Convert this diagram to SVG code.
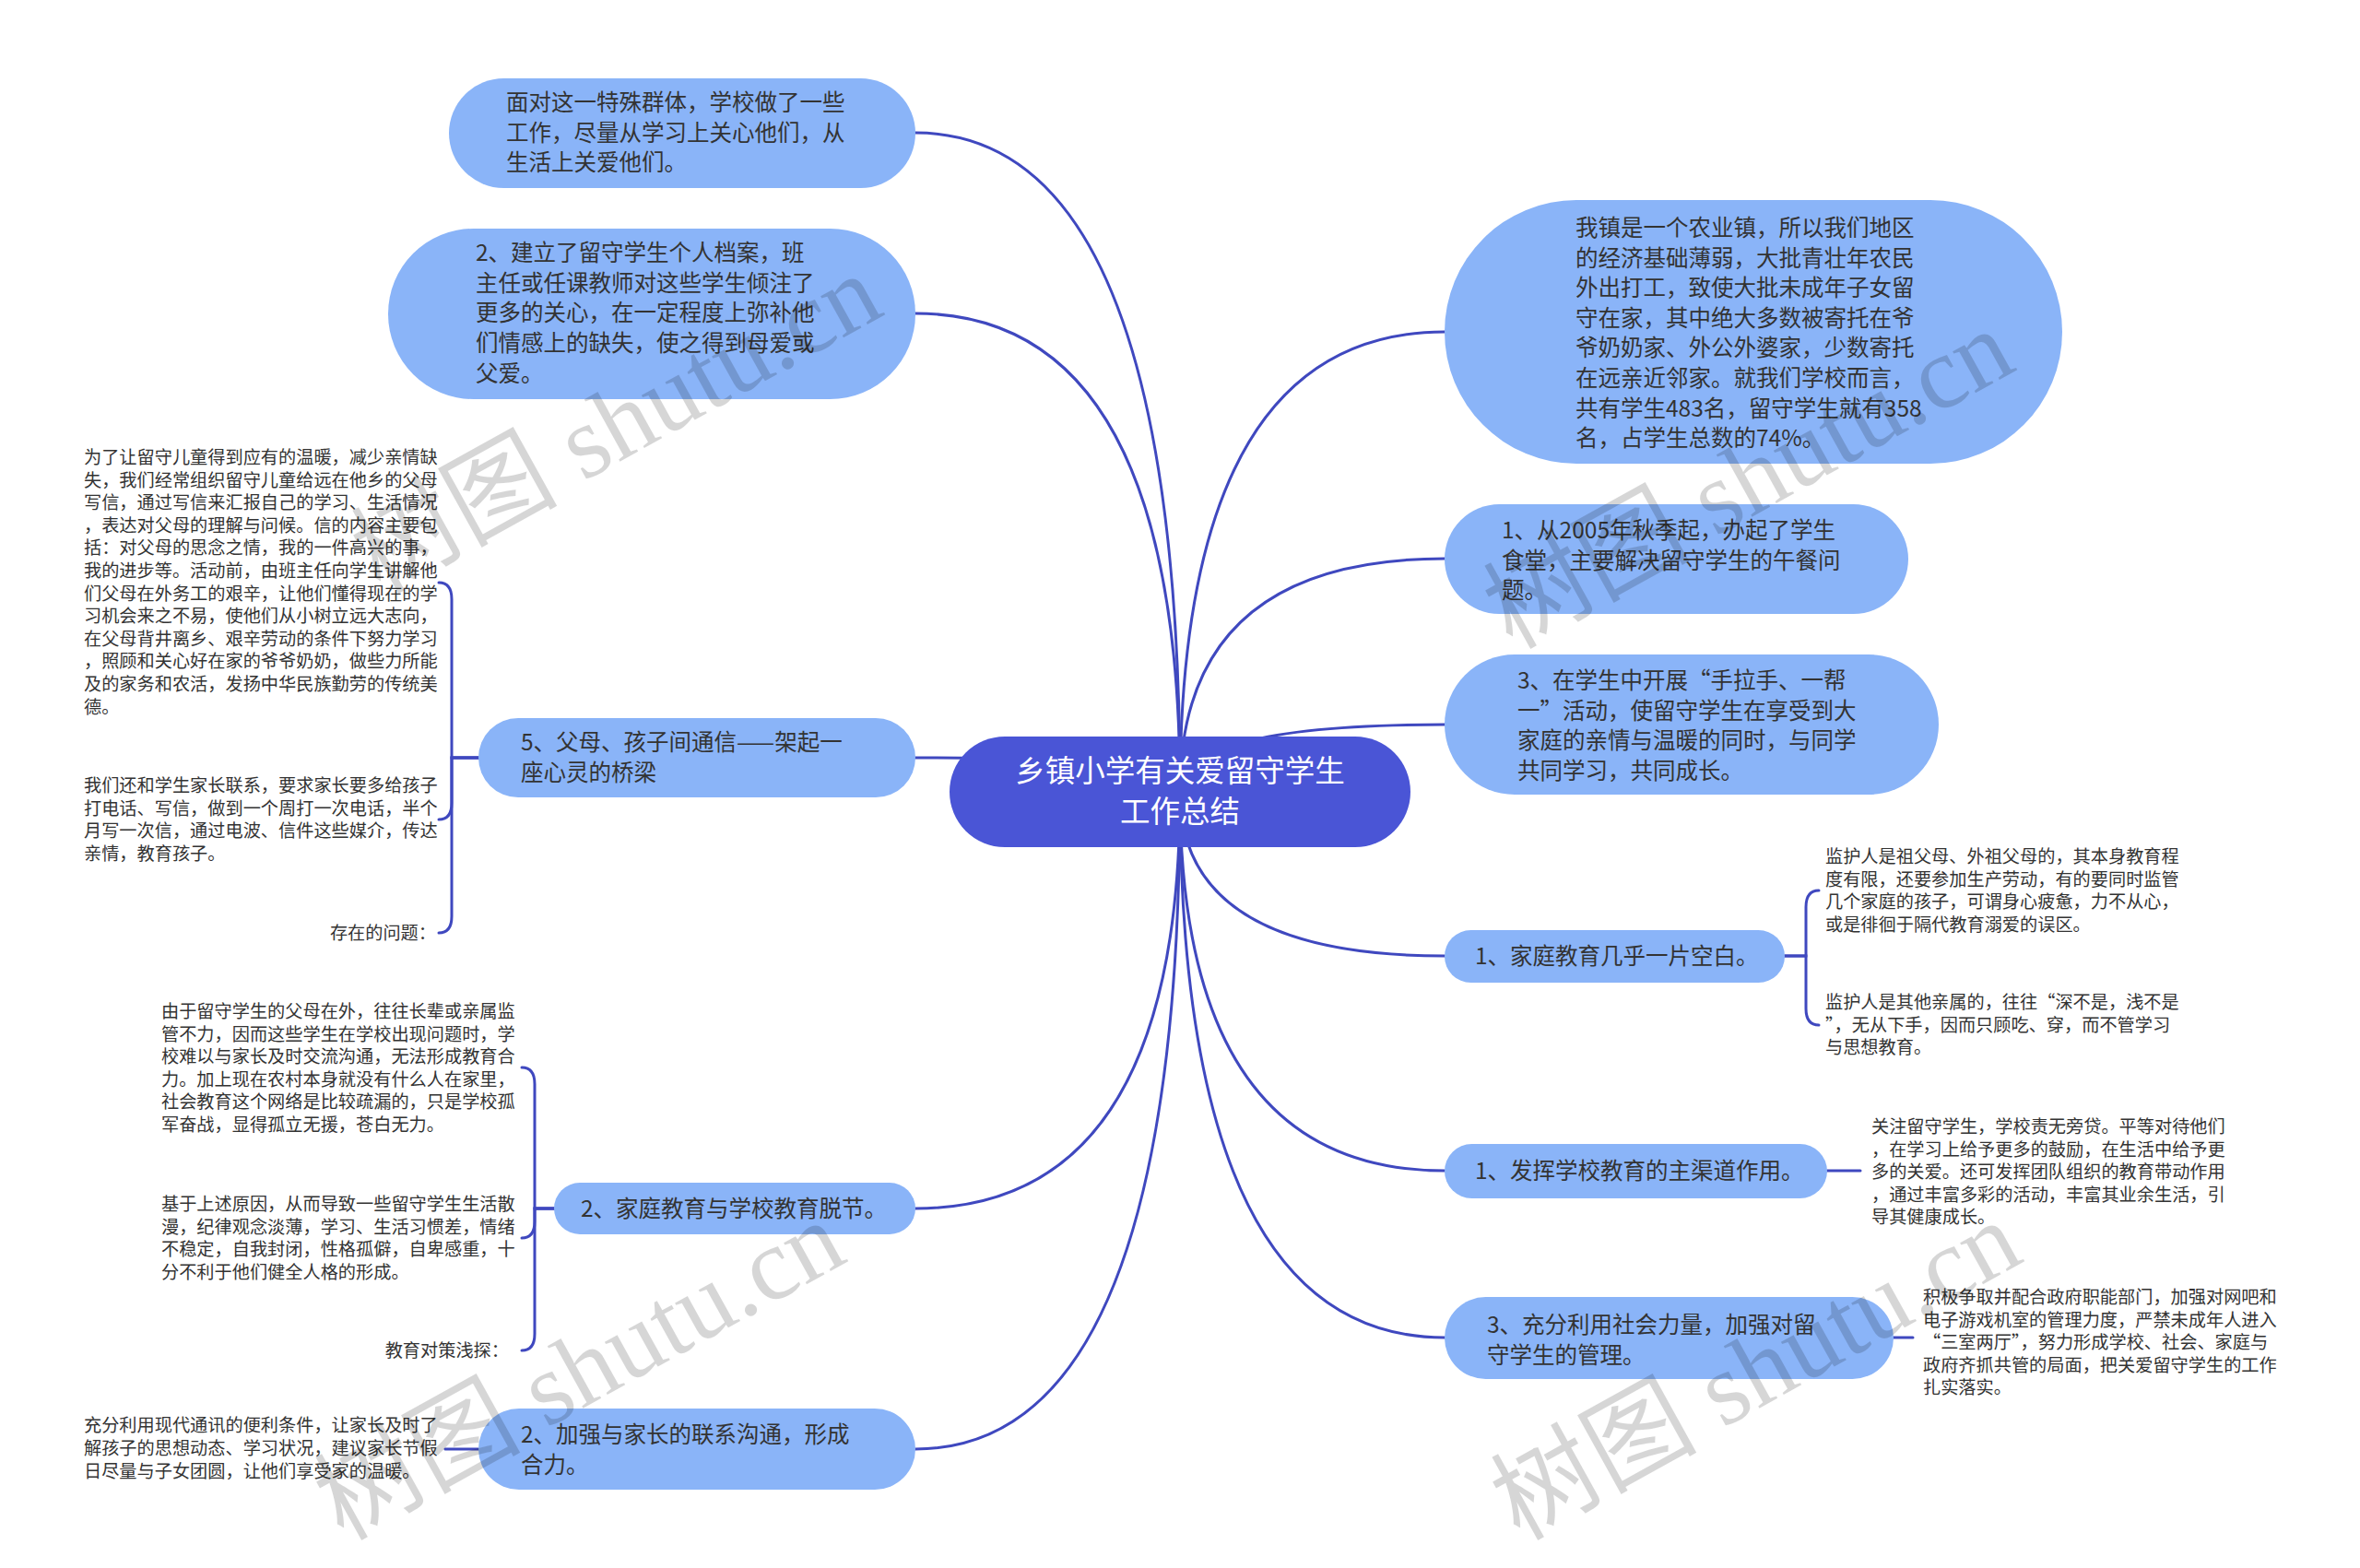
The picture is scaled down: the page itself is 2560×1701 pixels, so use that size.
<svg xmlns="http://www.w3.org/2000/svg" width="2560" height="1701" viewBox="0 0 2560 1701">
<defs>
<style>
.node rect{fill:#8ab4f8;}
.node text{font-family:"Noto Sans CJK SC","Liberation Sans",sans-serif;font-size:24.5px;fill:#333;}
.root rect{fill:#4a55d6;}
.root text{font-family:"Noto Sans CJK SC","Liberation Sans",sans-serif;font-size:32.5px;fill:#fff;text-anchor:middle;}
.leaf text{font-family:"Noto Sans CJK SC","Liberation Sans",sans-serif;font-size:19.2px;fill:#333;}
#connectors path{fill:none;stroke:#3f48bf;stroke-width:3;stroke-linecap:round;}
.wm{font-family:"Liberation Serif","Noto Sans CJK SC",serif;font-size:112px;fill:#000;fill-opacity:0.16;}
</style>
</defs>
<rect width="2560" height="1701" fill="#fff"/>
<g id="connectors">
<path d="M1280 859 Q1280 144 993 144"/>
<path d="M1280 859 Q1280 340 993 340"/>
<path d="M1280 859 Q1280 822 993 822"/>
<path d="M1280 859 Q1280 1311 993 1311"/>
<path d="M1280 859 Q1280 1572 993 1572"/>
<path d="M1280 859 Q1280 360 1567 360"/>
<path d="M1280 859 Q1280 606 1567 606"/>
<path d="M1280 859 Q1280 786 1567 786"/>
<path d="M1280 859 Q1280 1037 1567 1037"/>
<path d="M1280 859 Q1280 1270 1567 1270"/>
<path d="M1280 859 Q1280 1451 1567 1451"/>
<path d="M519 822 H490 V650 Q490 632 476 632"/>
<path d="M519 822 H490 V871 Q490 889 476 889"/>
<path d="M519 822 H490 V994 Q490 1012 476 1012"/>
<path d="M601 1311 H580 V1176 Q580 1158 566 1158"/>
<path d="M601 1311 H580 V1325 Q580 1343 566 1343"/>
<path d="M601 1311 H580 V1447 Q580 1465 566 1465"/>
<path d="M519 1572 H483"/>
<path d="M1936 1037 H1959 V984 Q1959 966 1973 966"/>
<path d="M1936 1037 H1959 V1094 Q1959 1112 1973 1112"/>
<path d="M1982 1270 H2018"/>
<path d="M2054 1451 H2075"/>
</g>
<g id="root" class="root">
<rect x="1030" y="799" width="500" height="120" rx="60"/>
<text x="1280" y="848">乡镇小学有关爱留守学生<tspan x="1280" dy="44">工作总结</tspan></text>
</g>
<g id="nodeA" class="node">
<rect x="487" y="85" width="506" height="119" rx="59.5"/>
<text x="549" y="120">面对这一特殊群体，学校做了一些<tspan x="549" dy="32.7">工作，尽量从学习上关心他们，从</tspan><tspan x="549" dy="32.7">生活上关爱他们。</tspan></text>
</g>
<g id="nodeB" class="node">
<rect x="421" y="248" width="572" height="185" rx="92.5"/>
<text x="516" y="283">2、建立了留守学生个人档案，班<tspan x="516" dy="32.7">主任或任课教师对这些学生倾注了</tspan><tspan x="516" dy="32.7">更多的关心，在一定程度上弥补他</tspan><tspan x="516" dy="32.7">们情感上的缺失，使之得到母爱或</tspan><tspan x="516" dy="32.7">父爱。</tspan></text>
</g>
<g id="nodeC" class="node">
<rect x="519" y="779" width="474" height="86" rx="43"/>
<text x="565" y="814">5、父母、孩子间通信——架起一<tspan x="565" dy="32.7">座心灵的桥梁</tspan></text>
</g>
<g id="nodeD" class="node">
<rect x="601" y="1283" width="392" height="56" rx="28"/>
<text x="630" y="1320">2、家庭教育与学校教育脱节。</text>
</g>
<g id="nodeE" class="node">
<rect x="519" y="1528" width="474" height="88" rx="44"/>
<text x="565" y="1565">2、加强与家长的联系沟通，形成<tspan x="565" dy="32.7">合力。</tspan></text>
</g>
<g id="nodeF" class="node">
<rect x="1567" y="217" width="670" height="286" rx="143"/>
<text x="1709" y="256">我镇是一个农业镇，所以我们地区<tspan x="1709" dy="32.6">的经济基础薄弱，大批青壮年农民</tspan><tspan x="1709" dy="32.6">外出打工，致使大批未成年子女留</tspan><tspan x="1709" dy="32.6">守在家，其中绝大多数被寄托在爷</tspan><tspan x="1709" dy="32.6">爷奶奶家、外公外婆家，少数寄托</tspan><tspan x="1709" dy="32.6">在远亲近邻家。就我们学校而言，</tspan><tspan x="1709" dy="32.6">共有学生483名，留守学生就有358</tspan><tspan x="1709" dy="32.6">名，占学生总数的74%。</tspan></text>
</g>
<g id="nodeG" class="node">
<rect x="1567" y="547" width="503" height="119" rx="59.5"/>
<text x="1629" y="584">1、从2005年秋季起，办起了学生<tspan x="1629" dy="32.7">食堂，主要解决留守学生的午餐问</tspan><tspan x="1629" dy="32.7">题。</tspan></text>
</g>
<g id="nodeH" class="node">
<rect x="1567" y="710" width="536" height="152" rx="76"/>
<text x="1646" y="747">3、在学生中开展“手拉手、一帮<tspan x="1646" dy="32.7">一”活动，使留守学生在享受到大</tspan><tspan x="1646" dy="32.7">家庭的亲情与温暖的同时，与同学</tspan><tspan x="1646" dy="32.7">共同学习，共同成长。</tspan></text>
</g>
<g id="nodeI" class="node">
<rect x="1567" y="1009" width="369" height="57" rx="28.5"/>
<text x="1600" y="1046">1、家庭教育几乎一片空白。</text>
</g>
<g id="nodeJ" class="node">
<rect x="1567" y="1241" width="415" height="59" rx="29.5"/>
<text x="1600" y="1279">1、发挥学校教育的主渠道作用。</text>
</g>
<g id="nodeK" class="node">
<rect x="1567" y="1407" width="487" height="89" rx="44.5"/>
<text x="1613" y="1446">3、充分利用社会力量，加强对留<tspan x="1613" dy="32.7">守学生的管理。</tspan></text>
</g>
<g id="leaf1" class="leaf">
<text x="91" y="503">为了让留守儿童得到应有的温暖，减少亲情缺<tspan x="91" dy="24.6">失，我们经常组织留守儿童给远在他乡的父母</tspan><tspan x="91" dy="24.6">写信，通过写信来汇报自己的学习、生活情况</tspan><tspan x="91" dy="24.6">，表达对父母的理解与问候。信的内容主要包</tspan><tspan x="91" dy="24.6">括：对父母的思念之情，我的一件高兴的事，</tspan><tspan x="91" dy="24.6">我的进步等。活动前，由班主任向学生讲解他</tspan><tspan x="91" dy="24.6">们父母在外务工的艰辛，让他们懂得现在的学</tspan><tspan x="91" dy="24.6">习机会来之不易，使他们从小树立远大志向，</tspan><tspan x="91" dy="24.6">在父母背井离乡、艰辛劳动的条件下努力学习</tspan><tspan x="91" dy="24.6">，照顾和关心好在家的爷爷奶奶，做些力所能</tspan><tspan x="91" dy="24.6">及的家务和农活，发扬中华民族勤劳的传统美</tspan><tspan x="91" dy="24.6">德。</tspan></text>
</g>
<g id="leaf2" class="leaf">
<text x="91" y="859">我们还和学生家长联系，要求家长要多给孩子<tspan x="91" dy="24.6">打电话、写信，做到一个周打一次电话，半个</tspan><tspan x="91" dy="24.6">月写一次信，通过电波、信件这些媒介，传达</tspan><tspan x="91" dy="24.6">亲情，教育孩子。</tspan></text>
</g>
<g id="leaf3" class="leaf">
<text x="473" y="1019" text-anchor="end">存在的问题：</text>
</g>
<g id="leaf4" class="leaf">
<text x="175" y="1104">由于留守学生的父母在外，往往长辈或亲属监<tspan x="175" dy="24.6">管不力，因而这些学生在学校出现问题时，学</tspan><tspan x="175" dy="24.6">校难以与家长及时交流沟通，无法形成教育合</tspan><tspan x="175" dy="24.6">力。加上现在农村本身就没有什么人在家里，</tspan><tspan x="175" dy="24.6">社会教育这个网络是比较疏漏的，只是学校孤</tspan><tspan x="175" dy="24.6">军奋战，显得孤立无援，苍白无力。</tspan></text>
</g>
<g id="leaf5" class="leaf">
<text x="175" y="1313">基于上述原因，从而导致一些留守学生生活散<tspan x="175" dy="24.6">漫，纪律观念淡薄，学习、生活习惯差，情绪</tspan><tspan x="175" dy="24.6">不稳定，自我封闭，性格孤僻，自卑感重，十</tspan><tspan x="175" dy="24.6">分不利于他们健全人格的形成。</tspan></text>
</g>
<g id="leaf6" class="leaf">
<text x="552" y="1472" text-anchor="end">教育对策浅探：</text>
</g>
<g id="leaf7" class="leaf">
<text x="91" y="1553">充分利用现代通讯的便利条件，让家长及时了<tspan x="91" dy="25">解孩子的思想动态、学习状况，建议家长节假</tspan><tspan x="91" dy="25">日尽量与子女团圆，让他们享受家的温暖。</tspan></text>
</g>
<g id="leaf8" class="leaf">
<text x="1980" y="936">监护人是祖父母、外祖父母的，其本身教育程<tspan x="1980" dy="24.6">度有限，还要参加生产劳动，有的要同时监管</tspan><tspan x="1980" dy="24.6">几个家庭的孩子，可谓身心疲惫，力不从心，</tspan><tspan x="1980" dy="24.6">或是徘徊于隔代教育溺爱的误区。</tspan></text>
</g>
<g id="leaf9" class="leaf">
<text x="1980" y="1094">监护人是其他亲属的，往往“深不是，浅不是<tspan x="1980" dy="24.6">”，无从下手，因而只顾吃、穿，而不管学习</tspan><tspan x="1980" dy="24.6">与思想教育。</tspan></text>
</g>
<g id="leaf10" class="leaf">
<text x="2030" y="1229">关注留守学生，学校责无旁贷。平等对待他们<tspan x="2030" dy="24.6">，在学习上给予更多的鼓励，在生活中给予更</tspan><tspan x="2030" dy="24.6">多的关爱。还可发挥团队组织的教育带动作用</tspan><tspan x="2030" dy="24.6">，通过丰富多彩的活动，丰富其业余生活，引</tspan><tspan x="2030" dy="24.6">导其健康成长。</tspan></text>
</g>
<g id="leaf11" class="leaf">
<text x="2086" y="1414">积极争取并配合政府职能部门，加强对网吧和<tspan x="2086" dy="24.6">电子游戏机室的管理力度，严禁未成年人进入</tspan><tspan x="2086" dy="24.6">“三室两厅”，努力形成学校、社会、家庭与</tspan><tspan x="2086" dy="24.6">政府齐抓共管的局面，把关爱留守学生的工作</tspan><tspan x="2086" dy="24.6">扎实落实。</tspan></text>
</g>
<g id="watermarks">
<text class="wm" transform="translate(412 645) rotate(-29)">树图 shutu.cn</text>
<text class="wm" transform="translate(1640 705) rotate(-29)">树图 shutu.cn</text>
<text class="wm" transform="translate(372 1672) rotate(-29)">树图 shutu.cn</text>
<text class="wm" transform="translate(1648 1672) rotate(-29)">树图 shutu.cn</text>
</g>
</svg>
